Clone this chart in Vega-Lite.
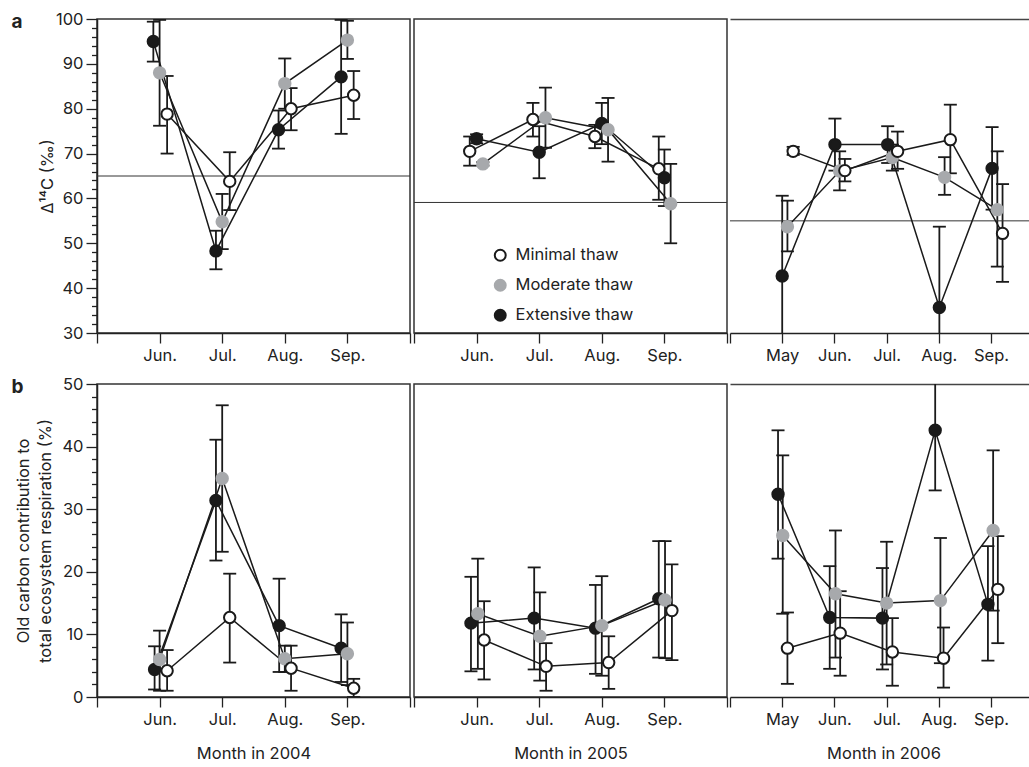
{
  "$schema": "https://vega.github.io/schema/vega-lite/v6.json",
  "padding": {"left": 10, "top": 10, "right": 0, "bottom": 0},
  "config": {
    "font": "Inter",
    "view": {"stroke": "#333", "strokeWidth": 1.5},
    "axis": {"labelFont": "Inter", "labelFontSize": 16.5, "labelColor": "#222", "titleFont": "Inter", "titleFontSize": 16.5, "titleFontWeight": "normal", "titleColor": "#222", "domainColor": "#222", "domainWidth": 1.5, "tickColor": "#222", "tickWidth": 1.3, "grid": false, "labelOverlap": false, "labelFlush": false}
  },
  "datasets": {
    "d": [
      {"p": "a", "yr": 2004, "s": "Extensive thaw", "m": 5.90, "v": 95.0, "lo": 90.5, "hi": 99.4},
      {"p": "a", "yr": 2004, "s": "Extensive thaw", "m": 6.90, "v": 48.3, "lo": 44.2, "hi": 52.8},
      {"p": "a", "yr": 2004, "s": "Extensive thaw", "m": 7.90, "v": 75.3, "lo": 71.1, "hi": 79.6},
      {"p": "a", "yr": 2004, "s": "Extensive thaw", "m": 8.90, "v": 87.1, "lo": 74.4, "hi": 99.8},
      {"p": "a", "yr": 2004, "s": "Moderate thaw", "m": 6.00, "v": 88.0, "lo": 76.2, "hi": 99.8},
      {"p": "a", "yr": 2004, "s": "Moderate thaw", "m": 7.00, "v": 54.8, "lo": 48.7, "hi": 61.0},
      {"p": "a", "yr": 2004, "s": "Moderate thaw", "m": 8.00, "v": 85.6, "lo": 80.0, "hi": 91.2},
      {"p": "a", "yr": 2004, "s": "Moderate thaw", "m": 9.00, "v": 95.3, "lo": 91.1, "hi": 99.6},
      {"p": "a", "yr": 2004, "s": "Minimal thaw", "m": 6.12, "v": 78.8, "lo": 70.0, "hi": 87.3},
      {"p": "a", "yr": 2004, "s": "Minimal thaw", "m": 7.12, "v": 63.8, "lo": 57.4, "hi": 70.3},
      {"p": "a", "yr": 2004, "s": "Minimal thaw", "m": 8.10, "v": 80.0, "lo": 75.2, "hi": 84.6},
      {"p": "a", "yr": 2004, "s": "Minimal thaw", "m": 9.10, "v": 83.0, "lo": 77.7, "hi": 88.4},

      {"p": "a", "yr": 2005, "s": "Minimal thaw", "m": 5.89, "v": 70.5, "lo": 67.3, "hi": 73.8},
      {"p": "a", "yr": 2005, "s": "Minimal thaw", "m": 6.90, "v": 77.6, "lo": 73.8, "hi": 81.3},
      {"p": "a", "yr": 2005, "s": "Minimal thaw", "m": 7.89, "v": 73.8, "lo": 71.2, "hi": 76.4},
      {"p": "a", "yr": 2005, "s": "Minimal thaw", "m": 8.91, "v": 66.6, "lo": 59.7, "hi": 73.8},
      {"p": "a", "yr": 2005, "s": "Extensive thaw", "m": 6.00, "v": 73.3, "lo": 72.3, "hi": 74.3},
      {"p": "a", "yr": 2005, "s": "Extensive thaw", "m": 7.00, "v": 70.3, "lo": 64.5, "hi": 76.1},
      {"p": "a", "yr": 2005, "s": "Extensive thaw", "m": 8.00, "v": 76.7, "lo": 72.1, "hi": 81.3},
      {"p": "a", "yr": 2005, "s": "Extensive thaw", "m": 9.00, "v": 64.6, "lo": 58.3, "hi": 70.9},
      {"p": "a", "yr": 2005, "s": "Moderate thaw", "m": 6.10, "v": 67.7, "lo": 67.3, "hi": 68.1},
      {"p": "a", "yr": 2005, "s": "Moderate thaw", "m": 7.10, "v": 78.0, "lo": 71.3, "hi": 84.7},
      {"p": "a", "yr": 2005, "s": "Moderate thaw", "m": 8.10, "v": 75.3, "lo": 68.2, "hi": 82.4},
      {"p": "a", "yr": 2005, "s": "Moderate thaw", "m": 9.10, "v": 58.8, "lo": 50.0, "hi": 67.7},

      {"p": "a", "yr": 2006, "s": "Extensive thaw", "m": 5.00, "v": 42.7, "lo": 24.8, "hi": 60.6},
      {"p": "a", "yr": 2006, "s": "Extensive thaw", "m": 6.01, "v": 72.0, "lo": 66.2, "hi": 77.8},
      {"p": "a", "yr": 2006, "s": "Extensive thaw", "m": 7.02, "v": 72.0, "lo": 67.9, "hi": 76.1},
      {"p": "a", "yr": 2006, "s": "Extensive thaw", "m": 8.01, "v": 35.7, "lo": 17.4, "hi": 53.7},
      {"p": "a", "yr": 2006, "s": "Extensive thaw", "m": 9.02, "v": 66.7, "lo": 57.5, "hi": 75.9},
      {"p": "a", "yr": 2006, "s": "Moderate thaw", "m": 5.10, "v": 53.7, "lo": 48.2, "hi": 59.5},
      {"p": "a", "yr": 2006, "s": "Moderate thaw", "m": 6.10, "v": 66.1, "lo": 61.8, "hi": 70.5},
      {"p": "a", "yr": 2006, "s": "Moderate thaw", "m": 7.11, "v": 69.1, "lo": 66.2, "hi": 72.0},
      {"p": "a", "yr": 2006, "s": "Moderate thaw", "m": 8.11, "v": 64.7, "lo": 60.8, "hi": 69.2},
      {"p": "a", "yr": 2006, "s": "Moderate thaw", "m": 9.12, "v": 57.5, "lo": 44.8, "hi": 70.5},
      {"p": "a", "yr": 2006, "s": "Minimal thaw", "m": 5.21, "v": 70.5, "lo": 69.7, "hi": 71.5},
      {"p": "a", "yr": 2006, "s": "Minimal thaw", "m": 6.20, "v": 66.2, "lo": 63.8, "hi": 68.8},
      {"p": "a", "yr": 2006, "s": "Minimal thaw", "m": 7.21, "v": 70.5, "lo": 66.6, "hi": 74.9},
      {"p": "a", "yr": 2006, "s": "Minimal thaw", "m": 8.22, "v": 73.1, "lo": 65.6, "hi": 80.9},
      {"p": "a", "yr": 2006, "s": "Minimal thaw", "m": 9.22, "v": 52.2, "lo": 41.4, "hi": 63.2},

      {"p": "b", "yr": 2004, "s": "Extensive thaw", "m": 5.92, "v": 4.4, "lo": 1.2, "hi": 8.1},
      {"p": "b", "yr": 2004, "s": "Extensive thaw", "m": 6.90, "v": 31.4, "lo": 21.8, "hi": 41.1},
      {"p": "b", "yr": 2004, "s": "Extensive thaw", "m": 7.91, "v": 11.4, "lo": 4.0, "hi": 18.9},
      {"p": "b", "yr": 2004, "s": "Extensive thaw", "m": 8.90, "v": 7.8, "lo": 2.4, "hi": 13.2},
      {"p": "b", "yr": 2004, "s": "Moderate thaw", "m": 6.00, "v": 6.0, "lo": 1.0, "hi": 10.6},
      {"p": "b", "yr": 2004, "s": "Moderate thaw", "m": 7.00, "v": 34.9, "lo": 23.2, "hi": 46.6},
      {"p": "b", "yr": 2004, "s": "Moderate thaw", "m": 8.00, "v": 6.1, "lo": 4.0, "hi": 8.2},
      {"p": "b", "yr": 2004, "s": "Moderate thaw", "m": 9.00, "v": 6.9, "lo": 1.9, "hi": 11.9},
      {"p": "b", "yr": 2004, "s": "Minimal thaw", "m": 6.12, "v": 4.2, "lo": 1.0, "hi": 7.5},
      {"p": "b", "yr": 2004, "s": "Minimal thaw", "m": 7.12, "v": 12.7, "lo": 5.5, "hi": 19.7},
      {"p": "b", "yr": 2004, "s": "Minimal thaw", "m": 8.10, "v": 4.6, "lo": 1.0, "hi": 8.2},
      {"p": "b", "yr": 2004, "s": "Minimal thaw", "m": 9.10, "v": 1.4, "lo": 0.0, "hi": 2.9},

      {"p": "b", "yr": 2005, "s": "Extensive thaw", "m": 5.91, "v": 11.8, "lo": 4.1, "hi": 19.2},
      {"p": "b", "yr": 2005, "s": "Extensive thaw", "m": 6.92, "v": 12.6, "lo": 4.4, "hi": 20.7},
      {"p": "b", "yr": 2005, "s": "Extensive thaw", "m": 7.90, "v": 11.0, "lo": 3.7, "hi": 17.9},
      {"p": "b", "yr": 2005, "s": "Extensive thaw", "m": 8.91, "v": 15.7, "lo": 6.3, "hi": 24.9},
      {"p": "b", "yr": 2005, "s": "Moderate thaw", "m": 6.02, "v": 13.3, "lo": 4.5, "hi": 22.1},
      {"p": "b", "yr": 2005, "s": "Moderate thaw", "m": 7.01, "v": 9.7, "lo": 2.6, "hi": 16.7},
      {"p": "b", "yr": 2005, "s": "Moderate thaw", "m": 8.00, "v": 11.4, "lo": 3.4, "hi": 19.3},
      {"p": "b", "yr": 2005, "s": "Moderate thaw", "m": 9.01, "v": 15.5, "lo": 6.2, "hi": 24.9},
      {"p": "b", "yr": 2005, "s": "Minimal thaw", "m": 6.12, "v": 9.1, "lo": 2.8, "hi": 15.3},
      {"p": "b", "yr": 2005, "s": "Minimal thaw", "m": 7.11, "v": 4.9, "lo": 1.0, "hi": 8.6},
      {"p": "b", "yr": 2005, "s": "Minimal thaw", "m": 8.11, "v": 5.5, "lo": 1.3, "hi": 9.7},
      {"p": "b", "yr": 2005, "s": "Minimal thaw", "m": 9.12, "v": 13.8, "lo": 5.9, "hi": 21.2},

      {"p": "b", "yr": 2006, "s": "Extensive thaw", "m": 4.92, "v": 32.4, "lo": 22.1, "hi": 42.6},
      {"p": "b", "yr": 2006, "s": "Extensive thaw", "m": 5.91, "v": 12.7, "lo": 4.5, "hi": 20.9},
      {"p": "b", "yr": 2006, "s": "Extensive thaw", "m": 6.92, "v": 12.6, "lo": 4.4, "hi": 20.6},
      {"p": "b", "yr": 2006, "s": "Extensive thaw", "m": 7.93, "v": 42.6, "lo": 33.0, "hi": 52.2},
      {"p": "b", "yr": 2006, "s": "Extensive thaw", "m": 8.94, "v": 14.8, "lo": 5.8, "hi": 24.1},
      {"p": "b", "yr": 2006, "s": "Moderate thaw", "m": 5.01, "v": 25.8, "lo": 13.3, "hi": 38.6},
      {"p": "b", "yr": 2006, "s": "Moderate thaw", "m": 6.02, "v": 16.5, "lo": 6.3, "hi": 26.6},
      {"p": "b", "yr": 2006, "s": "Moderate thaw", "m": 7.00, "v": 15.0, "lo": 5.2, "hi": 24.8},
      {"p": "b", "yr": 2006, "s": "Moderate thaw", "m": 8.03, "v": 15.4, "lo": 5.4, "hi": 25.4},
      {"p": "b", "yr": 2006, "s": "Moderate thaw", "m": 9.04, "v": 26.6, "lo": 13.8, "hi": 39.4},
      {"p": "b", "yr": 2006, "s": "Minimal thaw", "m": 5.10, "v": 7.8, "lo": 2.1, "hi": 13.5},
      {"p": "b", "yr": 2006, "s": "Minimal thaw", "m": 6.11, "v": 10.2, "lo": 3.4, "hi": 16.9},
      {"p": "b", "yr": 2006, "s": "Minimal thaw", "m": 7.11, "v": 7.2, "lo": 1.8, "hi": 12.6},
      {"p": "b", "yr": 2006, "s": "Minimal thaw", "m": 8.09, "v": 6.2, "lo": 1.5, "hi": 11.1},
      {"p": "b", "yr": 2006, "s": "Minimal thaw", "m": 9.13, "v": 17.2, "lo": 8.6, "hi": 25.7}
    ],
    "ref": [
      {"yr": 2004, "r": 65.0},
      {"yr": 2005, "r": 59.1},
      {"yr": 2006, "r": 55.0}
    ]
  },
  "columns": 3,
  "spacing": {"row": 10, "column": 0},
  "align": "each",
  "resolve": {
    "scale": {"x": "independent", "y": "independent", "fill": "independent", "stroke": "independent"},
    "axis": {"x": "independent", "y": "independent"},
    "legend": {"fill": "independent", "stroke": "independent"}
  },
  "concat": [
    {
      "width": 313, "height": 314,
      "data": {"name": "d"},
      "resolve": {"axis": {"x": "independent", "y": "independent"}},
      "layer": [
        {"transform": [{"filter": "datum.p === 'a' && datum.yr === 2004"}],
         "mark": {"type": "rule", "color": "#1a1a1a", "strokeWidth": 1.8, "clip": true},
         "encoding": {
           "x": {"field": "m", "type": "quantitative", "scale": {"domain": [5, 10], "nice": false, "zero": false},
                 "axis": {"values": [5, 6, 7, 8, 9, 10], "labelExpr": "datum.value == 6 ? 'Jun.' : datum.value == 7 ? 'Jul.' : datum.value == 8 ? 'Aug.' : datum.value == 9 ? 'Sep.' : ''", "tickSize": 10, "labelPadding": 4, "title": null}},
           "y": {"field": "lo", "type": "quantitative", "scale": {"domain": [30, 100], "nice": false, "zero": false},
                 "axis": {"values": [30,32,34,36,38,40,42,44,46,48,50,52,54,56,58,60,62,64,66,68,70,72,74,76,78,80,82,84,86,88,90,92,94,96,98,100], "labelExpr": "datum.value % 10 === 0 ? datum.label : ''", "tickSize": {"condition": {"test": "datum.value % 10 === 0", "value": 11}, "value": 5.5}, "labelPadding": 3, "title": "Δ¹⁴C (‰)", "titlePadding": 0}},
           "y2": {"field": "hi"}}},
        {"transform": [{"filter": "datum.p === 'a' && datum.yr === 2004"}],
         "mark": {"type": "tick", "orient": "horizontal", "size": 13, "thickness": 1.8, "color": "#1a1a1a", "clip": true, "opacity": 1},
         "encoding": {"x": {"field": "m", "type": "quantitative", "axis": null}, "y": {"field": "lo", "type": "quantitative", "axis": null}}},
        {"transform": [{"filter": "datum.p === 'a' && datum.yr === 2004"}],
         "mark": {"type": "tick", "orient": "horizontal", "size": 13, "thickness": 1.8, "color": "#1a1a1a", "clip": true, "opacity": 1},
         "encoding": {"x": {"field": "m", "type": "quantitative", "axis": null}, "y": {"field": "hi", "type": "quantitative", "axis": null}}},
        {"data": {"name": "ref"}, "transform": [{"filter": "datum.yr === 2004"}],
         "mark": {"type": "rule", "color": "#333", "strokeWidth": 1},
         "encoding": {"y": {"field": "r", "type": "quantitative", "axis": null}}},
        {"transform": [{"filter": "datum.p === 'a' && datum.yr === 2004"}],
         "mark": {"type": "line", "color": "#1a1a1a", "strokeWidth": 1.5},
         "encoding": {"x": {"field": "m", "type": "quantitative", "axis": null},
           "y": {"field": "v", "type": "quantitative", "axis": {"orient": "left", "labels": false, "ticks": false, "domain": false, "title": "a", "titleAngle": 0, "titleX": -86, "titleY": 8.5, "titleAlign": "left", "titleBaseline": "alphabetic", "titleFontSize": 19, "titleFontWeight": "bold"}},
           "detail": {"field": "s"}}},
        {"transform": [{"filter": "datum.p === 'a' && datum.yr === 2004"}],
         "mark": {"type": "point", "filled": true, "shape": "circle", "size": 130, "strokeWidth": 2, "opacity": 1},
         "encoding": {"x": {"field": "m", "type": "quantitative", "axis": null}, "y": {"field": "v", "type": "quantitative", "axis": null},
           "fill": {"field": "s", "type": "nominal", "scale": {"domain": ["Minimal thaw", "Moderate thaw", "Extensive thaw"], "range": ["#ffffff", "#a7a9ac", "#1a1a1a"]}, "legend": null},
           "stroke": {"field": "s", "type": "nominal", "scale": {"domain": ["Minimal thaw", "Moderate thaw", "Extensive thaw"], "range": ["#1a1a1a", "#a7a9ac", "#1a1a1a"]}, "legend": null}}}
      ]
    },
    {
      "width": 313, "height": 314,
      "data": {"name": "d"},
      "resolve": {"axis": {"x": "independent", "y": "independent"}},
      "layer": [
        {"transform": [{"filter": "datum.p === 'a' && datum.yr === 2005"}],
         "mark": {"type": "rule", "color": "#1a1a1a", "strokeWidth": 1.8, "clip": true},
         "encoding": {
           "x": {"field": "m", "type": "quantitative", "scale": {"domain": [5, 10], "nice": false, "zero": false},
                 "axis": {"values": [5, 6, 7, 8, 9, 10], "labelExpr": "datum.value == 6 ? 'Jun.' : datum.value == 7 ? 'Jul.' : datum.value == 8 ? 'Aug.' : datum.value == 9 ? 'Sep.' : ''", "tickSize": 10, "labelPadding": 4, "title": null}},
           "y": {"field": "lo", "type": "quantitative", "scale": {"domain": [30, 100], "nice": false, "zero": false}, "axis": null},
           "y2": {"field": "hi"}}},
        {"transform": [{"filter": "datum.p === 'a' && datum.yr === 2005"}],
         "mark": {"type": "tick", "orient": "horizontal", "size": 13, "thickness": 1.8, "color": "#1a1a1a", "clip": true, "opacity": 1},
         "encoding": {"x": {"field": "m", "type": "quantitative", "axis": null}, "y": {"field": "lo", "type": "quantitative", "axis": null}}},
        {"transform": [{"filter": "datum.p === 'a' && datum.yr === 2005"}],
         "mark": {"type": "tick", "orient": "horizontal", "size": 13, "thickness": 1.8, "color": "#1a1a1a", "clip": true, "opacity": 1},
         "encoding": {"x": {"field": "m", "type": "quantitative", "axis": null}, "y": {"field": "hi", "type": "quantitative", "axis": null}}},
        {"data": {"name": "ref"}, "transform": [{"filter": "datum.yr === 2005"}],
         "mark": {"type": "rule", "color": "#333", "strokeWidth": 1},
         "encoding": {"y": {"field": "r", "type": "quantitative", "axis": null}}},
        {"transform": [{"filter": "datum.p === 'a' && datum.yr === 2005"}],
         "mark": {"type": "line", "color": "#1a1a1a", "strokeWidth": 1.5},
         "encoding": {"x": {"field": "m", "type": "quantitative", "axis": null}, "y": {"field": "v", "type": "quantitative", "axis": null}, "detail": {"field": "s"}}},
        {"transform": [{"filter": "datum.p === 'a' && datum.yr === 2005"}],
         "mark": {"type": "point", "filled": true, "shape": "circle", "size": 130, "strokeWidth": 2, "opacity": 1},
         "encoding": {"x": {"field": "m", "type": "quantitative", "axis": null}, "y": {"field": "v", "type": "quantitative", "axis": null},
           "fill": {"field": "s", "type": "nominal", "scale": {"domain": ["Minimal thaw", "Moderate thaw", "Extensive thaw"], "range": ["#ffffff", "#a7a9ac", "#1a1a1a"]},
                    "legend": {"orient": "none", "legendX": 78, "legendY": 228, "title": null, "padding": 0, "rowPadding": 10, "labelFontSize": 16.5, "labelFont": "Inter", "labelColor": "#222", "labelOffset": 7, "symbolSize": 120, "symbolStrokeWidth": 2, "symbolType": "circle"}},
           "stroke": {"field": "s", "type": "nominal", "scale": {"domain": ["Minimal thaw", "Moderate thaw", "Extensive thaw"], "range": ["#1a1a1a", "#a7a9ac", "#1a1a1a"]},
                    "legend": {"orient": "none", "legendX": 78, "legendY": 228, "title": null, "padding": 0, "rowPadding": 10, "labelFontSize": 16.5, "labelFont": "Inter", "labelColor": "#222", "labelOffset": 7, "symbolSize": 120, "symbolStrokeWidth": 2, "symbolType": "circle"}}}}
      ]
    },
    {
      "width": 307, "height": 314,
      "view": {"stroke": null},
      "data": {"name": "d"},
      "resolve": {"axis": {"x": "independent", "y": "independent"}},
      "layer": [
        {"transform": [{"filter": "datum.p === 'a' && datum.yr === 2006"}],
         "mark": {"type": "rule", "color": "#1a1a1a", "strokeWidth": 1.8, "clip": true},
         "encoding": {
           "x": {"field": "m", "type": "quantitative", "scale": {"domain": [4, 9.88], "nice": false, "zero": false},
                 "axis": {"values": [4, 5, 6, 7, 8, 9], "labelExpr": "datum.value == 5 ? 'May' : datum.value == 6 ? 'Jun.' : datum.value == 7 ? 'Jul.' : datum.value == 8 ? 'Aug.' : datum.value == 9 ? 'Sep.' : ''", "tickSize": 10, "labelPadding": 4, "title": null}},
           "y": {"field": "lo", "type": "quantitative", "scale": {"domain": [30, 100], "nice": false, "zero": false}, "axis": null},
           "y2": {"field": "hi"}}},
        {"transform": [{"filter": "datum.p === 'a' && datum.yr === 2006"}],
         "mark": {"type": "tick", "orient": "horizontal", "size": 13, "thickness": 1.8, "color": "#1a1a1a", "clip": true, "opacity": 1},
         "encoding": {"x": {"field": "m", "type": "quantitative", "axis": null}, "y": {"field": "lo", "type": "quantitative", "axis": null}}},
        {"transform": [{"filter": "datum.p === 'a' && datum.yr === 2006"}],
         "mark": {"type": "tick", "orient": "horizontal", "size": 13, "thickness": 1.8, "color": "#1a1a1a", "clip": true, "opacity": 1},
         "encoding": {"x": {"field": "m", "type": "quantitative", "axis": null}, "y": {"field": "hi", "type": "quantitative", "axis": null}}},
        {"data": {"name": "ref"}, "transform": [{"filter": "datum.yr === 2006"}],
         "mark": {"type": "rule", "color": "#333", "strokeWidth": 1},
         "encoding": {"y": {"field": "r", "type": "quantitative", "axis": null}}},
        {"transform": [{"filter": "datum.p === 'a' && datum.yr === 2006"}],
         "mark": {"type": "line", "color": "#1a1a1a", "strokeWidth": 1.5},
         "encoding": {"x": {"field": "m", "type": "quantitative", "axis": {"orient": "top", "labels": false, "ticks": false, "domain": true, "title": null, "domainColor": "#444"}}, "y": {"field": "v", "type": "quantitative", "axis": null}, "detail": {"field": "s"}}},
        {"transform": [{"filter": "datum.p === 'a' && datum.yr === 2006"}],
         "mark": {"type": "point", "filled": true, "shape": "circle", "size": 130, "strokeWidth": 2, "opacity": 1},
         "encoding": {"x": {"field": "m", "type": "quantitative", "axis": null}, "y": {"field": "v", "type": "quantitative", "axis": null},
           "fill": {"field": "s", "type": "nominal", "scale": {"domain": ["Minimal thaw", "Moderate thaw", "Extensive thaw"], "range": ["#ffffff", "#a7a9ac", "#1a1a1a"]}, "legend": null},
           "stroke": {"field": "s", "type": "nominal", "scale": {"domain": ["Minimal thaw", "Moderate thaw", "Extensive thaw"], "range": ["#1a1a1a", "#a7a9ac", "#1a1a1a"]}, "legend": null}}}
      ]
    },
    {
      "width": 313, "height": 313,
      "data": {"name": "d"},
      "resolve": {"axis": {"x": "independent", "y": "independent"}},
      "layer": [
        {"transform": [{"filter": "datum.p === 'b' && datum.yr === 2004"}],
         "mark": {"type": "rule", "color": "#1a1a1a", "strokeWidth": 1.8, "clip": true},
         "encoding": {
           "x": {"field": "m", "type": "quantitative", "scale": {"domain": [5, 10], "nice": false, "zero": false},
                 "axis": {"values": [5, 6, 7, 8, 9, 10], "labelExpr": "datum.value == 6 ? 'Jun.' : datum.value == 7 ? 'Jul.' : datum.value == 8 ? 'Aug.' : datum.value == 9 ? 'Sep.' : ''", "tickSize": 10, "labelPadding": 4, "title": "Month in 2004", "titlePadding": 18}},
           "y": {"field": "lo", "type": "quantitative", "scale": {"domain": [0, 50], "nice": false, "zero": false},
                 "axis": {"values": [0,2,4,6,8,10,12,14,16,18,20,22,24,26,28,30,32,34,36,38,40,42,44,46,48,50], "labelExpr": "datum.value % 10 === 0 ? datum.label : ''", "tickSize": {"condition": {"test": "datum.value % 10 === 0", "value": 11}, "value": 5.5}, "labelPadding": 3, "title": ["Old carbon contribution to", "total ecosystem respiration (%)"], "titlePadding": 8, "titleLineHeight": 22}},
           "y2": {"field": "hi"}}},
        {"transform": [{"filter": "datum.p === 'b' && datum.yr === 2004"}],
         "mark": {"type": "tick", "orient": "horizontal", "size": 13, "thickness": 1.8, "color": "#1a1a1a", "clip": true, "opacity": 1},
         "encoding": {"x": {"field": "m", "type": "quantitative", "axis": null}, "y": {"field": "lo", "type": "quantitative", "axis": null}}},
        {"transform": [{"filter": "datum.p === 'b' && datum.yr === 2004"}],
         "mark": {"type": "tick", "orient": "horizontal", "size": 13, "thickness": 1.8, "color": "#1a1a1a", "clip": true, "opacity": 1},
         "encoding": {"x": {"field": "m", "type": "quantitative", "axis": null}, "y": {"field": "hi", "type": "quantitative", "axis": null}}},
        {"transform": [{"filter": "datum.p === 'b' && datum.yr === 2004"}],
         "mark": {"type": "line", "color": "#1a1a1a", "strokeWidth": 1.5},
         "encoding": {"x": {"field": "m", "type": "quantitative", "axis": null},
           "y": {"field": "v", "type": "quantitative", "axis": {"orient": "left", "labels": false, "ticks": false, "domain": false, "title": "b", "titleAngle": 0, "titleX": -86, "titleY": 8.5, "titleAlign": "left", "titleBaseline": "alphabetic", "titleFontSize": 19, "titleFontWeight": "bold"}},
           "detail": {"field": "s"}}},
        {"transform": [{"filter": "datum.p === 'b' && datum.yr === 2004"}],
         "mark": {"type": "point", "filled": true, "shape": "circle", "size": 130, "strokeWidth": 2, "opacity": 1},
         "encoding": {"x": {"field": "m", "type": "quantitative", "axis": null}, "y": {"field": "v", "type": "quantitative", "axis": null},
           "fill": {"field": "s", "type": "nominal", "scale": {"domain": ["Minimal thaw", "Moderate thaw", "Extensive thaw"], "range": ["#ffffff", "#a7a9ac", "#1a1a1a"]}, "legend": null},
           "stroke": {"field": "s", "type": "nominal", "scale": {"domain": ["Minimal thaw", "Moderate thaw", "Extensive thaw"], "range": ["#1a1a1a", "#a7a9ac", "#1a1a1a"]}, "legend": null}}}
      ]
    },
    {
      "width": 313, "height": 313,
      "data": {"name": "d"},
      "resolve": {"axis": {"x": "independent", "y": "independent"}},
      "layer": [
        {"transform": [{"filter": "datum.p === 'b' && datum.yr === 2005"}],
         "mark": {"type": "rule", "color": "#1a1a1a", "strokeWidth": 1.8, "clip": true},
         "encoding": {
           "x": {"field": "m", "type": "quantitative", "scale": {"domain": [5, 10], "nice": false, "zero": false},
                 "axis": {"values": [5, 6, 7, 8, 9, 10], "labelExpr": "datum.value == 6 ? 'Jun.' : datum.value == 7 ? 'Jul.' : datum.value == 8 ? 'Aug.' : datum.value == 9 ? 'Sep.' : ''", "tickSize": 10, "labelPadding": 4, "title": "Month in 2005", "titlePadding": 18}},
           "y": {"field": "lo", "type": "quantitative", "scale": {"domain": [0, 50], "nice": false, "zero": false}, "axis": null},
           "y2": {"field": "hi"}}},
        {"transform": [{"filter": "datum.p === 'b' && datum.yr === 2005"}],
         "mark": {"type": "tick", "orient": "horizontal", "size": 13, "thickness": 1.8, "color": "#1a1a1a", "clip": true, "opacity": 1},
         "encoding": {"x": {"field": "m", "type": "quantitative", "axis": null}, "y": {"field": "lo", "type": "quantitative", "axis": null}}},
        {"transform": [{"filter": "datum.p === 'b' && datum.yr === 2005"}],
         "mark": {"type": "tick", "orient": "horizontal", "size": 13, "thickness": 1.8, "color": "#1a1a1a", "clip": true, "opacity": 1},
         "encoding": {"x": {"field": "m", "type": "quantitative", "axis": null}, "y": {"field": "hi", "type": "quantitative", "axis": null}}},
        {"transform": [{"filter": "datum.p === 'b' && datum.yr === 2005"}],
         "mark": {"type": "line", "color": "#1a1a1a", "strokeWidth": 1.5},
         "encoding": {"x": {"field": "m", "type": "quantitative", "axis": null}, "y": {"field": "v", "type": "quantitative", "axis": null}, "detail": {"field": "s"}}},
        {"transform": [{"filter": "datum.p === 'b' && datum.yr === 2005"}],
         "mark": {"type": "point", "filled": true, "shape": "circle", "size": 130, "strokeWidth": 2, "opacity": 1},
         "encoding": {"x": {"field": "m", "type": "quantitative", "axis": null}, "y": {"field": "v", "type": "quantitative", "axis": null},
           "fill": {"field": "s", "type": "nominal", "scale": {"domain": ["Minimal thaw", "Moderate thaw", "Extensive thaw"], "range": ["#ffffff", "#a7a9ac", "#1a1a1a"]}, "legend": null},
           "stroke": {"field": "s", "type": "nominal", "scale": {"domain": ["Minimal thaw", "Moderate thaw", "Extensive thaw"], "range": ["#1a1a1a", "#a7a9ac", "#1a1a1a"]}, "legend": null}}}
      ]
    },
    {
      "width": 307, "height": 313,
      "view": {"stroke": null},
      "data": {"name": "d"},
      "resolve": {"axis": {"x": "independent", "y": "independent"}},
      "layer": [
        {"transform": [{"filter": "datum.p === 'b' && datum.yr === 2006"}],
         "mark": {"type": "rule", "color": "#1a1a1a", "strokeWidth": 1.8, "clip": true},
         "encoding": {
           "x": {"field": "m", "type": "quantitative", "scale": {"domain": [4, 9.88], "nice": false, "zero": false},
                 "axis": {"values": [4, 5, 6, 7, 8, 9], "labelExpr": "datum.value == 5 ? 'May' : datum.value == 6 ? 'Jun.' : datum.value == 7 ? 'Jul.' : datum.value == 8 ? 'Aug.' : datum.value == 9 ? 'Sep.' : ''", "tickSize": 10, "labelPadding": 4, "title": "Month in 2006", "titlePadding": 18}},
           "y": {"field": "lo", "type": "quantitative", "scale": {"domain": [0, 50], "nice": false, "zero": false}, "axis": null},
           "y2": {"field": "hi"}}},
        {"transform": [{"filter": "datum.p === 'b' && datum.yr === 2006"}],
         "mark": {"type": "tick", "orient": "horizontal", "size": 13, "thickness": 1.8, "color": "#1a1a1a", "clip": true, "opacity": 1},
         "encoding": {"x": {"field": "m", "type": "quantitative", "axis": null}, "y": {"field": "lo", "type": "quantitative", "axis": null}}},
        {"transform": [{"filter": "datum.p === 'b' && datum.yr === 2006"}],
         "mark": {"type": "tick", "orient": "horizontal", "size": 13, "thickness": 1.8, "color": "#1a1a1a", "clip": true, "opacity": 1},
         "encoding": {"x": {"field": "m", "type": "quantitative", "axis": null}, "y": {"field": "hi", "type": "quantitative", "axis": null}}},
        {"transform": [{"filter": "datum.p === 'b' && datum.yr === 2006"}],
         "mark": {"type": "line", "color": "#1a1a1a", "strokeWidth": 1.5},
         "encoding": {"x": {"field": "m", "type": "quantitative", "axis": {"orient": "top", "labels": false, "ticks": false, "domain": true, "title": null, "domainColor": "#444"}}, "y": {"field": "v", "type": "quantitative", "axis": null}, "detail": {"field": "s"}}},
        {"transform": [{"filter": "datum.p === 'b' && datum.yr === 2006"}],
         "mark": {"type": "point", "filled": true, "shape": "circle", "size": 130, "strokeWidth": 2, "opacity": 1},
         "encoding": {"x": {"field": "m", "type": "quantitative", "axis": null}, "y": {"field": "v", "type": "quantitative", "axis": null},
           "fill": {"field": "s", "type": "nominal", "scale": {"domain": ["Minimal thaw", "Moderate thaw", "Extensive thaw"], "range": ["#ffffff", "#a7a9ac", "#1a1a1a"]}, "legend": null},
           "stroke": {"field": "s", "type": "nominal", "scale": {"domain": ["Minimal thaw", "Moderate thaw", "Extensive thaw"], "range": ["#1a1a1a", "#a7a9ac", "#1a1a1a"]}, "legend": null}}}
      ]
    }
  ]
}
